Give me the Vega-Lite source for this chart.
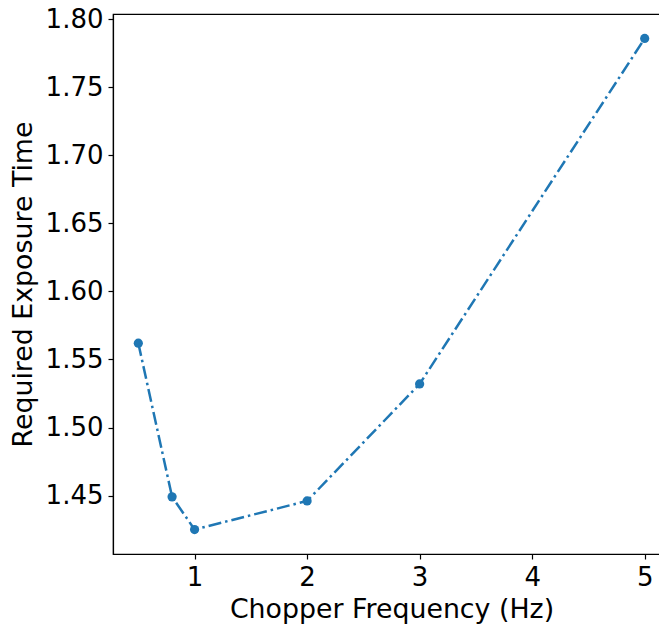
{
  "$schema": "https://vega.github.io/schema/vega-lite/v6.json",
  "autosize": "none",
  "width": 557,
  "height": 540,
  "padding": {"left": 113, "top": 14, "right": 0, "bottom": 70},
  "background": "white",
  "config": {
    "view": {"stroke": "black", "strokeWidth": 1.2},
    "axis": {
      "labelFont": "DejaVu Sans",
      "titleFont": "DejaVu Sans",
      "labelFontSize": 26,
      "titleFontSize": 26.8,
      "titleFontWeight": "normal",
      "labelColor": "black",
      "titleColor": "black",
      "domainColor": "black",
      "domainWidth": 1.2,
      "tickColor": "black",
      "tickWidth": 1.2,
      "tickSize": 5,
      "grid": false,
      "labelPadding": 5
    }
  },
  "data": {
    "values": [
      {"f": 0.5, "t": 1.562},
      {"f": 0.8, "t": 1.449},
      {"f": 1.0, "t": 1.425},
      {"f": 2.0, "t": 1.446},
      {"f": 3.0, "t": 1.532},
      {"f": 5.0, "t": 1.786}
    ]
  },
  "encoding": {
    "x": {
      "field": "f", "type": "quantitative",
      "scale": {"domain": [0.275, 5.225], "zero": false, "nice": false},
      "axis": {"values": [1, 2, 3, 4, 5], "format": "d", "title": "Chopper Frequency (Hz)", "titlePadding": 6}
    },
    "y": {
      "field": "t", "type": "quantitative",
      "scale": {"domain": [1.407, 1.804], "zero": false, "nice": false},
      "axis": {"values": [1.45, 1.5, 1.55, 1.6, 1.65, 1.7, 1.75, 1.8], "format": ".2f", "title": "Required Exposure Time", "titlePadding": 8}
    }
  },
  "layer": [
    {"mark": {"type": "line", "color": "#1f77b4", "strokeWidth": 2.5, "strokeDash": [13, 4, 2.5, 4]}},
    {"mark": {"type": "point", "filled": true, "color": "#1f77b4", "opacity": 1, "size": 85}}
  ]
}
